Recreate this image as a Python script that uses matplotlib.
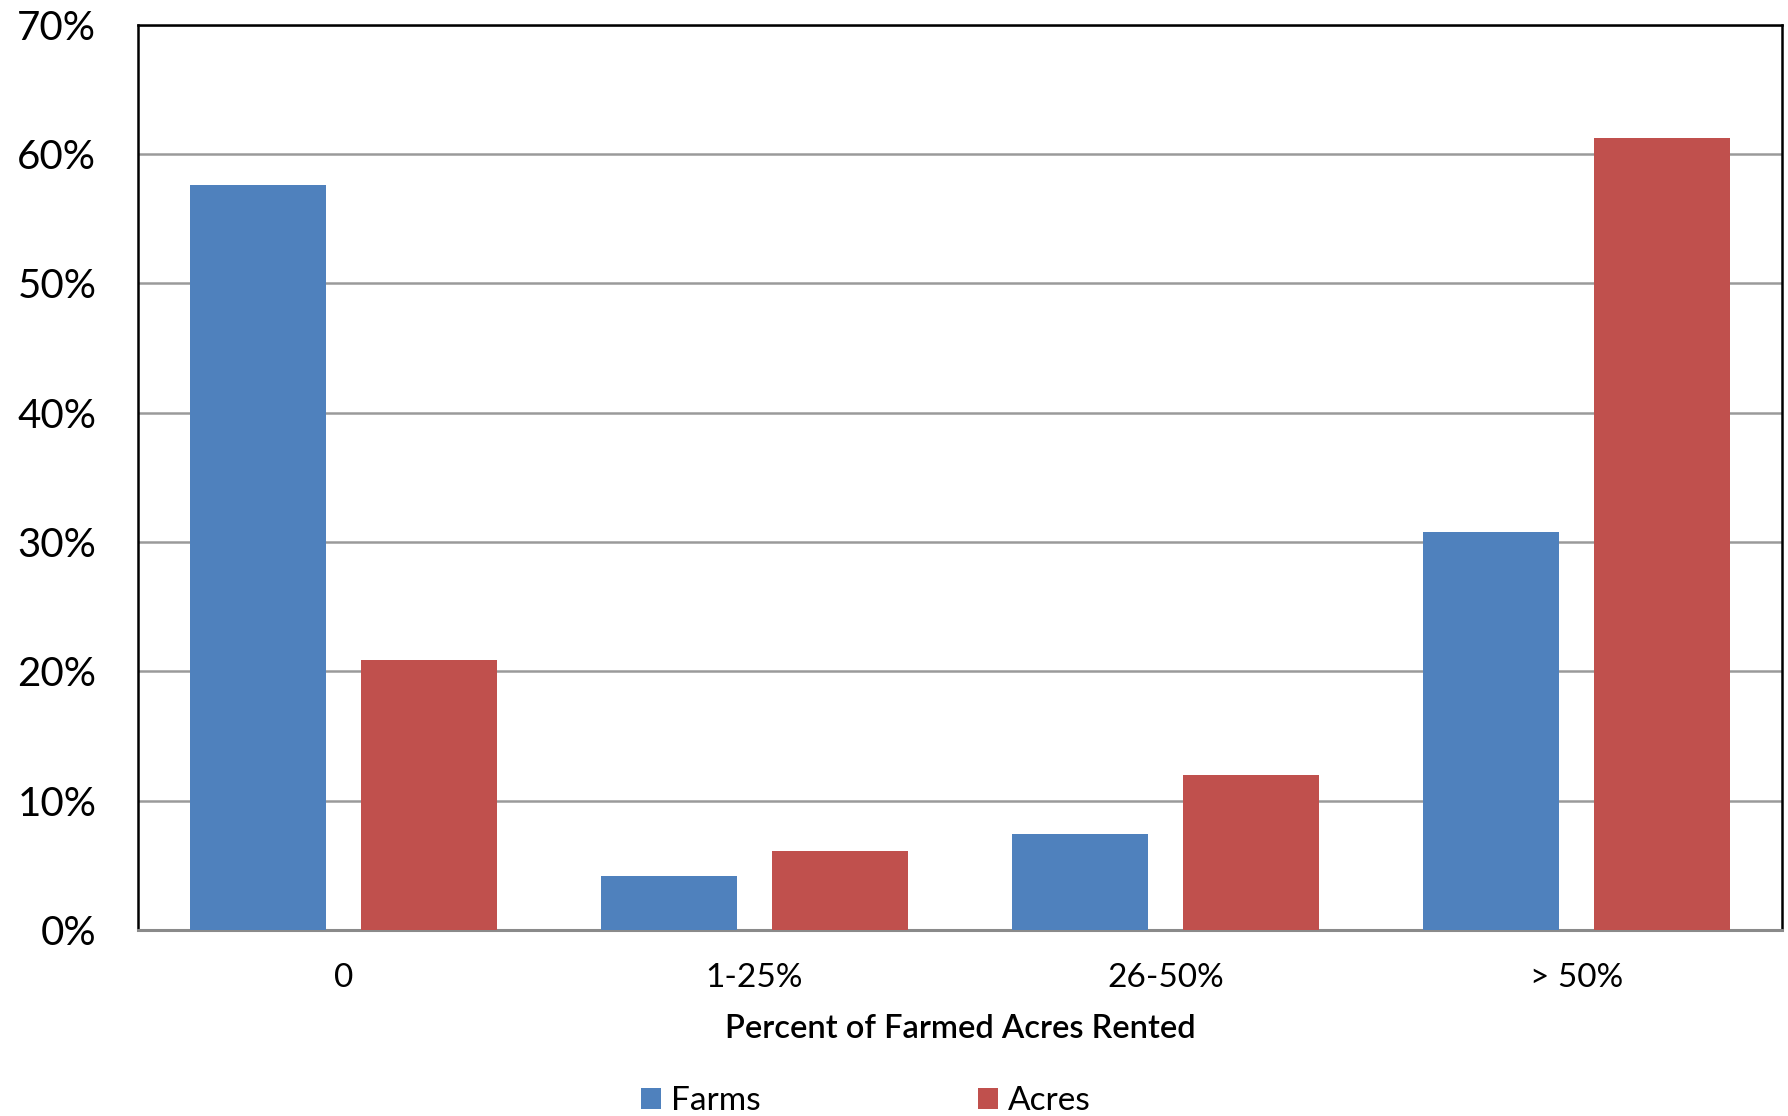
import matplotlib
matplotlib.use("Agg")
import matplotlib.pyplot as plt
from matplotlib.patches import Patch
import numpy as np

categories = ["0", "1-25%", "26-50%", "> 50%"]
farms = [57.6, 4.2, 7.45, 30.75]
acres = [20.9, 6.1, 11.95, 61.2]
series_names = ["Farms", "Acres"]
yticks = [0, 10, 20, 30, 40, 50, 60, 70]

blue = "#4F81BD"
red = "#C0504D"

plt.rcParams['font.family'] = ['Lato', 'DejaVu Sans']

fig = plt.figure(figsize=(17.88, 11.16), dpi=100)
ax = fig.add_axes([138/1788, 1-930/1116, (1782-138)/1788, (930-24.5)/1116])

x = np.arange(len(categories))
w = 0.333
off = 0.208
ax.bar(x - off, farms, width=w, color=blue, zorder=3)
ax.bar(x + off, acres, width=w, color=red, zorder=3)

ax.set_xlim(-0.5, len(categories) - 0.5)
ax.set_ylim(0, 70)
ax.set_yticks(yticks)
ax.set_yticklabels([f"{v}%" for v in yticks], fontsize=29)
ax.set_xticks(x)
ax.set_xticklabels(categories, fontsize=24)
ax.tick_params(axis='y', length=0, pad=30)
ax.tick_params(axis='x', length=0, pad=24)
ax.yaxis.grid(True, color="#9a9a9a", linewidth=1.8, zorder=0)
ax.set_axisbelow(True)

for s in ["left", "top", "right"]:
    ax.spines[s].set_color("black")
    ax.spines[s].set_linewidth(1.8)
ax.spines["bottom"].set_color("#8a8a8a")
ax.spines["bottom"].set_linewidth(2.2)

ax.set_xlabel("Percent of Farmed Acres Rented", fontsize=23.5, fontweight="semibold", labelpad=15)

handles = [Patch(facecolor=blue, edgecolor="none"), Patch(facecolor=red, edgecolor="none")]
fig.legend(handles, series_names, loc="center", bbox_to_anchor=(866/1788, 1-1101/1116),
           ncol=2, frameon=False, fontsize=24, handlelength=0.6, handleheight=0.6,
           handletextpad=0.3, columnspacing=6.5)

fig.savefig("out.png", dpi=100)
